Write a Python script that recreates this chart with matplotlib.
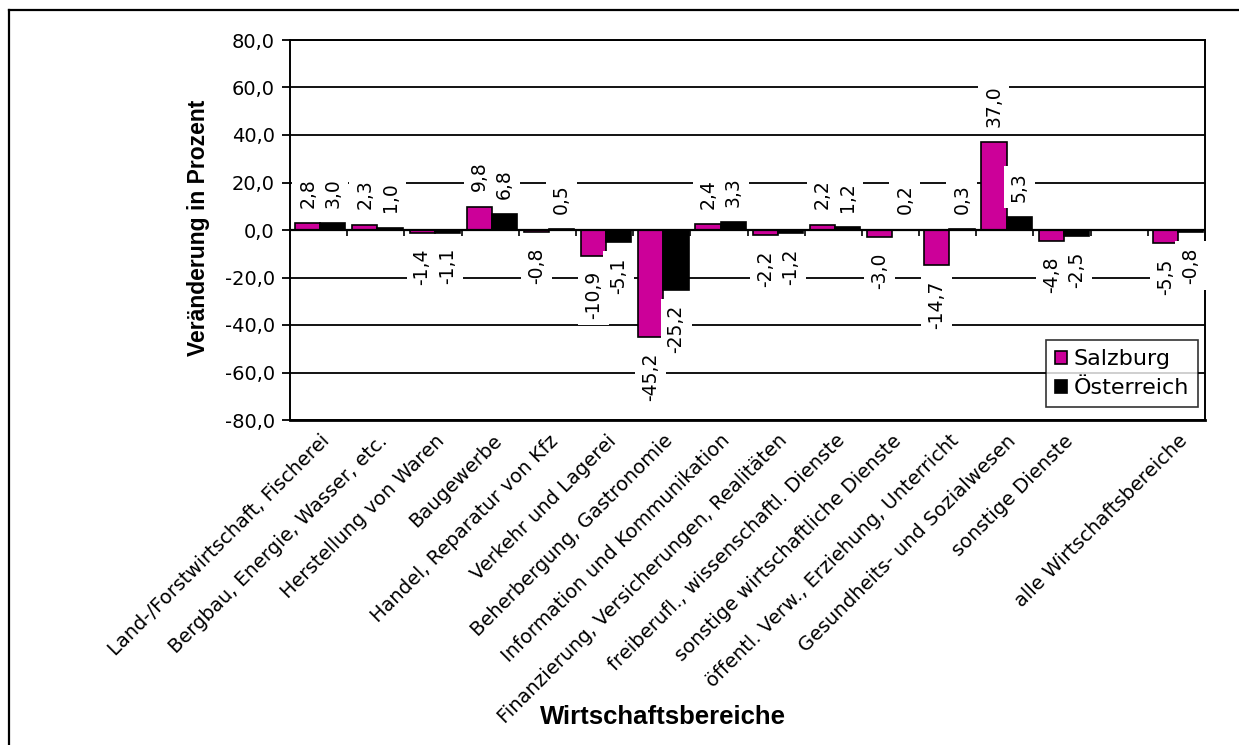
import numpy as np
import matplotlib
matplotlib.use("Agg")
import matplotlib.pyplot as plt
from matplotlib.lines import Line2D
from matplotlib.ticker import FuncFormatter

# Daten (Veränderung in Prozent)
kategorien = [
    "Land-/Forstwirtschaft, Fischerei",
    "Bergbau, Energie, Wasser, etc.",
    "Herstellung von Waren",
    "Baugewerbe",
    "Handel, Reparatur von Kfz",
    "Verkehr und Lagerei",
    "Beherbergung, Gastronomie",
    "Information und Kommunikation",
    "Finanzierung, Versicherungen, Realitäten",
    "freiberufl., wissenschaftl. Dienste",
    "sonstige wirtschaftliche Dienste",
    "öffentl. Verw., Erziehung, Unterricht",
    "Gesundheits- und Sozialwesen",
    "sonstige Dienste",
    "",
    "alle Wirtschaftsbereiche",
]
salzburg = [2.8, 2.3, -1.4, 9.8, -0.8, -10.9, -45.2, 2.4, -2.2, 2.2, -3.0, -14.7, 37.0, -4.8, np.nan, -5.5]
oesterreich = [3.0, 1.0, -1.1, 6.8, 0.5, -5.1, -25.2, 3.3, -1.2, 1.2, 0.2, 0.3, 5.3, -2.5, np.nan, -0.8]
y_ticks = [-80, -60, -40, -20, 0, 20, 40, 60, 80]

magenta = "#CC0099"

fig = plt.figure(figsize=(12.39, 7.45), dpi=100)
ax = fig.add_axes([290 / 1239, 1 - 420 / 745, 915 / 1239, 380 / 745])

x = np.arange(len(kategorien))
w = 0.44

ax.bar(x - w / 2 + 0.03, salzburg, w, color=magenta, edgecolor="black", linewidth=1.2, zorder=2, label="Salzburg")
ax.bar(x + w / 2 + 0.03, oesterreich, w, color="black", edgecolor="black", linewidth=1.2, zorder=2, label="Österreich")

# Gitterlinien
for yv in y_ticks:
    ax.axhline(yv, color="black", linewidth=1.3, zorder=1)
ax.axhline(0, color="black", linewidth=1.6, zorder=2.6)
# Teilstriche an der Nulllinie
ax.vlines(x[:-1] + 0.5, 0, -2.6, color="black", linewidth=1.2, zorder=2.6)

ax.set_xlim(-0.5, len(kategorien) - 0.5)
ax.set_ylim(-80, 80)
ax.set_yticks(y_ticks)
ax.yaxis.set_major_formatter(FuncFormatter(lambda v, p: f"{v:.1f}".replace(".", ",")))
ax.tick_params(axis="y", length=6, width=1.3, pad=5, labelsize=14)

ax.set_xticks(x + 0.03)
ax.set_xticklabels(kategorien, rotation=45, ha="right", va="top", rotation_mode="anchor", fontsize=14)
ax.tick_params(axis="x", length=0, pad=8)

for s in ax.spines.values():
    s.set_linewidth(1.4)
    s.set_zorder(2.5)
ax.spines["bottom"].set_linewidth(2)


def fmt(v):
    return f"{v:.1f}".replace(".", ",")


# Datenbeschriftungen mit weißem Hintergrund
for xs, vals in ((x - w / 2 + 0.03, salzburg), (x + w / 2 + 0.03, oesterreich)):
    for xi, v in zip(xs, vals):
        if np.isnan(v):
            continue
        off = 11 if v >= 0 else -11
        ha = "left" if v >= 0 else "right"
        kw = dict(xy=(xi, v), xytext=(0, off), textcoords="offset points",
                  rotation=90, rotation_mode="anchor", ha=ha, va="center", fontsize=13.5)
        ax.annotate(fmt(v), color="none", zorder=3,
                    bbox=dict(boxstyle="square,pad=0.32", facecolor="white", edgecolor="none"), **kw)
        ax.annotate(fmt(v), color="black", zorder=4, **kw)

leg = ax.legend(loc="lower right", bbox_to_anchor=(0.992, 0.034), fontsize=16, frameon=True,
                fancybox=False, handlelength=0.55, handleheight=0.55, handletextpad=0.3,
                borderpad=0.4, labelspacing=0.4, borderaxespad=0)
leg.get_frame().set_edgecolor("black")
leg.get_frame().set_linewidth(1.2)
leg.set_zorder(5)

ax.set_ylabel("Veränderung in Prozent", fontsize=16.5, fontweight="bold", family="Liberation Sans")
ax.yaxis.set_label_coords((210 - 290) / 915, (420 - 228) / 380)
fig.text(663 / 1239, 1 - 717 / 745, "Wirtschaftsbereiche", fontsize=18.5, fontweight="bold",
         family="Liberation Sans", ha="center", va="center")

# Rahmen um die Grafik
fig.add_artist(Line2D([9 / 1239, 1.0], [1 - 10 / 745, 1 - 10 / 745], color="black", linewidth=1.6))
fig.add_artist(Line2D([9 / 1239, 9 / 1239], [0, 1 - 10 / 745], color="black", linewidth=1.6))

fig.savefig("out.png", dpi=100)
